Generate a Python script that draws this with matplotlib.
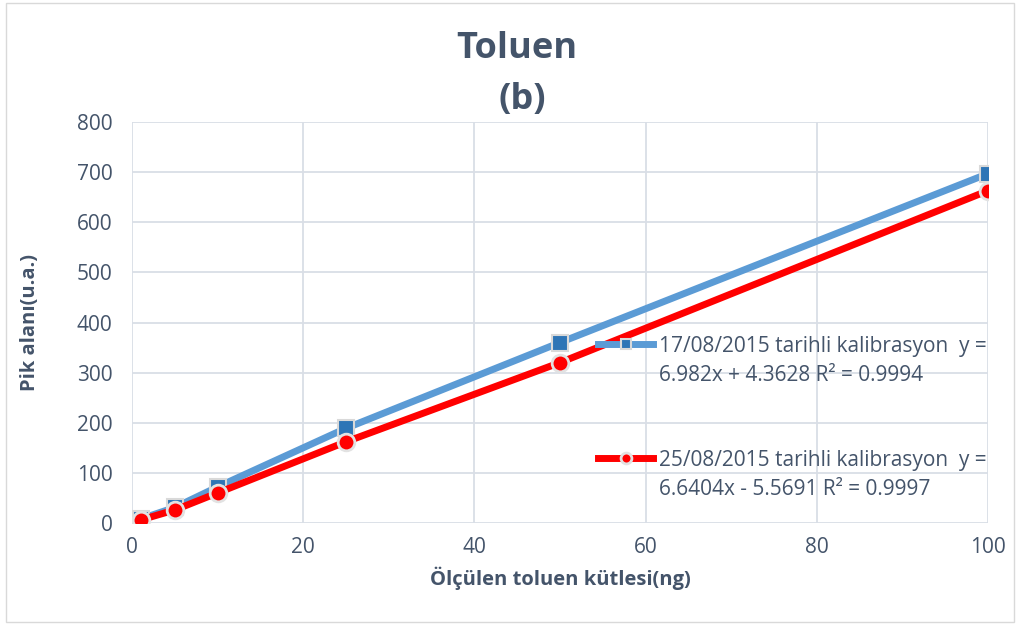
import matplotlib
matplotlib.use("Agg")
import matplotlib.pyplot as plt
from matplotlib.patches import Rectangle
from matplotlib.legend_handler import HandlerLine2D

plt.rcParams["font.family"] = ["Open Sans", "DejaVu Sans"]

mass = [1, 5, 10, 25, 50, 100]
area_1708 = [8, 31, 72, 189, 360, 697]
area_2508 = [6, 26, 60, 162, 320, 663]
label_1708 = "17/08/2015 tarihli kalibrasyon  y =\n6.982x + 4.3628 R² = 0.9994"
label_2508 = "25/08/2015 tarihli kalibrasyon  y =\n6.6404x - 5.5691 R² = 0.9997"
xticks = [0, 20, 40, 60, 80, 100]
yticks = [0, 100, 200, 300, 400, 500, 600, 700, 800]

txt = "#44546A"
grid = "#D9DEE6"


class TopLine(HandlerLine2D):
    # Excel puts the legend key next to the first text line
    def create_artists(self, legend, orig_handle, xdescent, ydescent, width, height, fontsize, trans):
        arts = super().create_artists(legend, orig_handle, xdescent, ydescent, width, height, fontsize, trans)
        for a in arts:
            a.set_ydata([y + 0.85 * fontsize for y in a.get_ydata()])
        arts[-1].set_markersize(orig_handle.get_markersize() * 0.65)
        return arts


fig = plt.figure(figsize=(10.2, 6.28), dpi=100)
fig.patches.append(Rectangle((0.006, 0.01), 0.988, 0.985, transform=fig.transFigure,
                             fill=False, edgecolor="#D9D9D9", linewidth=1))
ax = fig.add_axes([0.1294, 0.1672, 0.8392, 0.6385])

l1, = ax.plot(mass, area_1708, color="#5B9BD5", linewidth=5, marker="s", markersize=11,
              markerfacecolor="#2E75B6", markeredgecolor="#D9D9D9", markeredgewidth=1.5,
              label=label_1708, zorder=3)
l2, = ax.plot(mass, area_2508, color="#FF0000", linewidth=5, marker="o", markersize=12,
              markerfacecolor="#FF0000", markeredgecolor="#E2E2E2", markeredgewidth=2,
              label=label_2508, zorder=4)

ax.set_xlim(0, 100)
ax.set_ylim(0, 800)
ax.set_xticks(xticks)
ax.set_yticks(yticks)
ax.grid(True, color=grid, linewidth=1.3)
ax.set_axisbelow(True)
for s in ax.spines.values():
    s.set_visible(False)
ax.tick_params(length=0, labelsize=15, labelcolor=txt)
ax.tick_params(axis="y", pad=14)
ax.tick_params(axis="x", pad=10)

ax.set_xlabel("Ölçülen toluen kütlesi(ng)", fontsize=14.5, fontweight="bold", color=txt)
ax.set_ylabel("Pik alanı(u.a.)", fontsize=14.5, fontweight="bold", color=txt)
ax.xaxis.set_label_coords(0.5, -0.11)
ax.yaxis.set_label_coords(-0.108, 0.5)
fig.text(0.507, 0.922, "Toluen", ha="center", va="center", fontsize=26, fontweight="bold", color=txt)
fig.text(0.512, 0.84, "(b)", ha="center", va="center", fontsize=26, fontweight="bold", color=txt)

leg = ax.legend(loc="center left", bbox_to_anchor=(0.535, 0.262), frameon=False,
                fontsize=15, labelcolor=txt, handlelength=2.65, handletextpad=0.25,
                labelspacing=3.1, borderaxespad=0,
                handler_map={l1: TopLine(), l2: TopLine()})
for t in leg.get_texts():
    t.set_linespacing(1.5)

fig.savefig("out.png", dpi=100)
